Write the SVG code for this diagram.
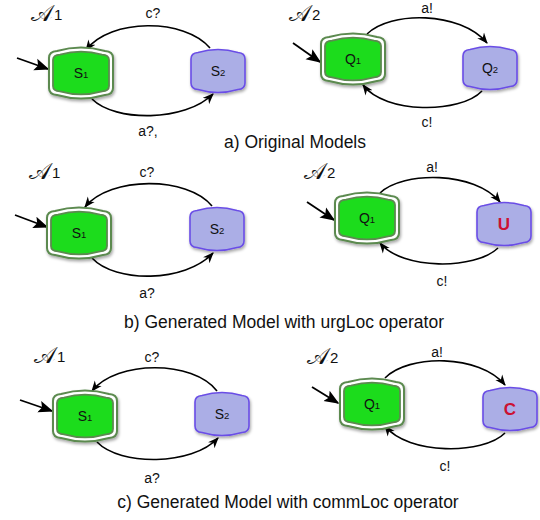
<svg xmlns="http://www.w3.org/2000/svg" width="540" height="520" viewBox="0 0 540 520">
  <style>
    text { font-family: "Liberation Sans", Arial, sans-serif; fill: #111; }
    .lbl { font-size: 14px; text-anchor: middle; }
    .st { font-size: 14px; text-anchor: middle; }
    .sub { font-size: 9.5px; }
    .cap { font-size: 17.5px; text-anchor: middle; }
    .aut { font-family: "DejaVu Serif", "DejaVu Sans", serif; font-size: 23px; }
    .idx { font-size: 15px; }
    .mark { font-size: 17px; font-weight: bold; fill: #cc1133; text-anchor: middle; }
    .edge { fill: none; stroke: #000; stroke-width: 1.6; marker-end: url(#arr); }
    .init { fill: none; stroke: #000; stroke-width: 1.8; marker-end: url(#arrBig); }
    .gOut { fill: #fff; stroke: #5b8a4f; stroke-width: 2; }
    .gIn { fill: #1fdc1f; stroke: #5b8a4f; stroke-width: 1.8; }
    .purp { fill: #abaee6; stroke: #6a4ee6; stroke-width: 1.6; }
  </style>
  <defs>
    <filter id="shadow" x="-20%" y="-20%" width="140%" height="150%">
      <feDropShadow dx="1" dy="2" stdDeviation="1.5" flood-color="#000" flood-opacity="0.35"/>
    </filter>
    <marker id="arr" viewBox="0 0 10 10" refX="9" refY="5" markerWidth="11" markerHeight="11" orient="auto" markerUnits="userSpaceOnUse">
      <path d="M0,1 L10,5 L0,9 L3,5 Z" fill="#000"/>
    </marker>
    <marker id="arrBig" viewBox="0 0 10 10" refX="9" refY="5" markerWidth="15" markerHeight="15" orient="auto" markerUnits="userSpaceOnUse">
      <path d="M0,1 L10,5 L0,9 L2,5 Z" fill="#000"/>
    </marker>
    <!-- initial location: double-bordered green barrel -->
    <g id="initLoc">
      <path class="gOut" d="M0,11 Q0,4.5 8,4 Q32,-3 56,4 Q64,4.5 64,11 L64,41 Q64,47.5 56,48 Q32,55 8,48 Q0,47.5 0,41 Z"/>
      <path class="gIn" d="M4,13 Q4,8 11,7.6 Q32,1.6 53,7.6 Q60,8 60,13 L60,39 Q60,44 53,44.4 Q32,50.4 11,44.4 Q4,44 4,39 Z"/>
    </g>
    <!-- ordinary location: purple barrel -->
    <path id="loc" class="purp" d="M0,10 Q0,4 7,3.5 Q27,-2.5 47,3.5 Q54,4 54,10 L54,34 Q54,40 47,40.5 Q27,46.5 7,40.5 Q0,40 0,34 Z"/>
  </defs>

  <!-- connectors -->
  <g id="connectors">
    <!-- a) -->
    <path class="init" d="M17,58 L48,69"/>
    <path class="edge" d="M210,48 C185,18 110,18 86,50"/>
    <path class="edge" d="M92,99 C115,122 185,122 213,94"/>
    <path class="init" d="M293,43 L320,62"/>
    <path class="edge" d="M367,34 C390,11 460,11 487,43"/>
    <path class="edge" d="M482,91 C460,114 385,114 363,85"/>
    <!-- b) -->
    <path class="init" d="M15,215 L47,227"/>
    <path class="edge" d="M212,206 C188,176 110,176 85,207"/>
    <path class="edge" d="M92,258 C115,283 185,283 213,253"/>
    <path class="init" d="M307,202 L334,220"/>
    <path class="edge" d="M380,193 C403,171 475,171 500,202"/>
    <path class="edge" d="M498,248 C475,270 402,270 380,243"/>
    <!-- c) -->
    <path class="init" d="M20,400 L52,411"/>
    <path class="edge" d="M217,391 C193,360 117,360 92,391"/>
    <path class="edge" d="M97,442 C120,466 192,466 218,438"/>
    <path class="init" d="M312,387 L338,403"/>
    <path class="edge" d="M385,378 C408,354 480,354 505,385"/>
    <path class="edge" d="M505,433 C483,455 408,455 385,426"/>
  </g>

  <!-- panel a: original models -->
  <g id="a_S1" filter="url(#shadow)"><use href="#initLoc" x="49" y="47"/></g>
  <text class="st" x="81" y="78">S<tspan class="sub">1</tspan></text>
  <g id="a_S2" filter="url(#shadow)"><use href="#loc" x="191" y="49"/></g>
  <text class="st" x="218" y="76">S<tspan class="sub">2</tspan></text>
  <g id="a_Q1" filter="url(#shadow)"><use href="#initLoc" x="321" y="33"/></g>
  <text class="st" x="353" y="64">Q<tspan class="sub">1</tspan></text>
  <g id="a_Q2" filter="url(#shadow)"><use href="#loc" x="463" y="46"/></g>
  <text class="st" x="490" y="73">Q<tspan class="sub">2</tspan></text>
  <g id="a_labels">
    <text class="aut" x="31" y="21">𝒜</text><text class="idx" x="54" y="20">1</text>
    <text class="aut" x="289" y="21">𝒜</text><text class="idx" x="312" y="20">2</text>
    <text class="lbl" x="153" y="18">c?</text>
    <text class="lbl" x="148" y="136">a?,</text>
    <text class="lbl" x="427" y="13">a!</text>
    <text class="lbl" x="427" y="127">c!</text>
    <text class="cap" x="295" y="148">a) Original Models</text>
  </g>

  <!-- panel b: urgLoc -->
  <g id="b_S1" filter="url(#shadow)"><use href="#initLoc" x="47" y="207"/></g>
  <text class="st" x="79" y="238">S<tspan class="sub">1</tspan></text>
  <g id="b_S2" filter="url(#shadow)"><use href="#loc" x="190" y="207"/></g>
  <text class="st" x="217" y="234">S<tspan class="sub">2</tspan></text>
  <g id="b_Q1" filter="url(#shadow)"><use href="#initLoc" x="335" y="192"/></g>
  <text class="st" x="367" y="223">Q<tspan class="sub">1</tspan></text>
  <g id="b_U" filter="url(#shadow)"><use href="#loc" x="477" y="202"/></g>
  <text class="mark" x="504" y="230">U</text>
  <g id="b_labels">
    <text class="aut" x="29" y="179">𝒜</text><text class="idx" x="52" y="178">1</text>
    <text class="aut" x="304" y="179">𝒜</text><text class="idx" x="327" y="178">2</text>
    <text class="lbl" x="147" y="177">c?</text>
    <text class="lbl" x="147" y="298">a?</text>
    <text class="lbl" x="432" y="172">a!</text>
    <text class="lbl" x="442" y="286">c!</text>
    <text class="cap" x="284" y="328">b) Generated Model with urgLoc operator</text>
  </g>

  <!-- panel c: commLoc -->
  <g id="c_S1" filter="url(#shadow)"><use href="#initLoc" x="53" y="390"/></g>
  <text class="st" x="85" y="421">S<tspan class="sub">1</tspan></text>
  <g id="c_S2" filter="url(#shadow)"><use href="#loc" x="195" y="392"/></g>
  <text class="st" x="222" y="419">S<tspan class="sub">2</tspan></text>
  <g id="c_Q1" filter="url(#shadow)"><use href="#initLoc" x="340" y="378"/></g>
  <text class="st" x="372" y="409">Q<tspan class="sub">1</tspan></text>
  <g id="c_C" filter="url(#shadow)"><use href="#loc" x="483" y="387"/></g>
  <text class="mark" x="510" y="415">C</text>
  <g id="c_labels">
    <text class="aut" x="34" y="363">𝒜</text><text class="idx" x="57" y="362">1</text>
    <text class="aut" x="307" y="364">𝒜</text><text class="idx" x="330" y="363">2</text>
    <text class="lbl" x="152" y="362">c?</text>
    <text class="lbl" x="152" y="483">a?</text>
    <text class="lbl" x="437" y="357">a!</text>
    <text class="lbl" x="445" y="471">c!</text>
    <text class="cap" x="288" y="508">c) Generated Model with commLoc operator</text>
  </g>
</svg>
